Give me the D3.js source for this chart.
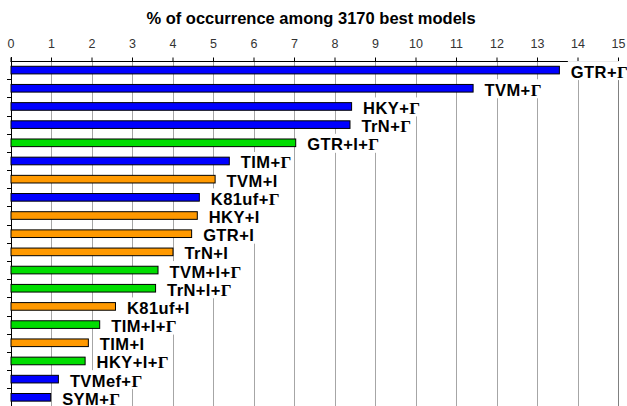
<!DOCTYPE html>
<html>
<head>
<meta charset="utf-8">
<script src="https://cdn.jsdelivr.net/npm/d3@7"></script>
<style>
  body { margin: 0; background: #fff; }
  svg { display: block; }
</style>
</head>
<body>
<div id="chart"></div>
<script>
// data
var models = ["GTR+Γ", "TVM+Γ", "HKY+Γ", "TrN+Γ", "GTR+I+Γ", "TIM+Γ", "TVM+I",
  "K81uf+Γ", "HKY+I", "GTR+I", "TrN+I", "TVM+I+Γ", "TrN+I+Γ", "K81uf+I",
  "TIM+I+Γ", "TIM+I", "HKY+I+Γ", "TVMef+Γ", "SYM+Γ"];
var percents = [13.54, 11.41, 8.41, 8.37, 7.03, 5.39, 5.04, 4.65, 4.60, 4.46,
  4.00, 3.63, 3.57, 2.58, 2.19, 1.91, 1.83, 1.17, 0.98];
var xTicks = d3.range(0, 16);
var groups = ["+Γ", "+I", "+I+Γ"];

var width = 627, height = 406;
var plotLeft = 10.5, plotRight = 618, plotTop = 61, plotBottom = 406.4;

var svg = d3.select("#chart").append("svg")
    .attr("width", width)
    .attr("height", height);

var x = d3.scaleLinear().domain([0, 15]).range([plotLeft, plotRight]);
var y = d3.scaleBand().domain(models).range([plotTop, plotBottom]).paddingInner(0.58).paddingOuter(0.29);
var color = d3.scaleOrdinal().domain(groups).range(["#0000ff", "#ff9900", "#00dd00"]);

function groupOf(m) {
  if (m.indexOf("+I+Γ") >= 0) return "+I+Γ";
  if (m.indexOf("+I") >= 0) return "+I";
  return "+Γ";
}

var data = models.map(function(m, i) { return {model: m, value: percents[i]}; });

// title
svg.append("text")
    .attr("x", 311)
    .attr("y", 24)
    .attr("text-anchor", "middle")
    .style("font-family", "Liberation Sans, Arial, sans-serif")
    .style("font-weight", "bold")
    .style("font-size", "16.5px")
    .text("% of occurrence among 3170 best models");

// gridlines
svg.selectAll(".grid")
    .data(xTicks.filter(function(d) { return d > 0; }))
    .enter().append("line")
    .attr("class", "grid")
    .attr("x1", function(d) { return Math.round(x(d)) + 0.5; })
    .attr("x2", function(d) { return Math.round(x(d)) + 0.5; })
    .attr("y1", plotTop)
    .attr("y2", height)
    .attr("stroke", function(d) { return d === 15 ? "#808080" : "#a6a6a6"; })
    .attr("stroke-width", 1);

// top axis
var xAxis = d3.axisTop(x).tickValues(xTicks).tickSize(4).tickPadding(10);
var gx = svg.append("g")
    .attr("transform", "translate(0," + (plotTop + 0.5) + ")")
    .call(xAxis);
gx.select(".domain").attr("stroke", "#000").attr("d", "M" + plotLeft + ",0H" + (plotRight + 1));
gx.selectAll(".tick line").attr("stroke", "#000");
gx.selectAll(".tick text")
    .style("font-family", "Liberation Sans, Arial, sans-serif")
    .style("font-size", "12.5px")
    .attr("fill", "#333");

// left axis with ticks at band edges
var gy = svg.append("g");
gy.append("line")
    .attr("x1", Math.round(plotLeft) + 0.5).attr("x2", Math.round(plotLeft) + 0.5)
    .attr("y1", plotTop - 4).attr("y2", height)
    .attr("stroke", "#000");
gy.selectAll(".ytick")
    .data(models)
    .enter().append("line")
    .attr("class", "ytick")
    .attr("x1", Math.round(plotLeft) - 4).attr("x2", Math.round(plotLeft) + 0.5)
    .attr("y1", function(d) { return Math.round(y(d) + y.bandwidth() / 2 + y.step() / 2) + 0.5; })
    .attr("y2", function(d) { return Math.round(y(d) + y.bandwidth() / 2 + y.step() / 2) + 0.5; })
    .attr("stroke", "#000");

// bars
svg.selectAll(".bar")
    .data(data)
    .enter().append("rect")
    .attr("class", "bar")
    .attr("x", x(0) + 0.5)
    .attr("y", function(d) { return y(d.model); })
    .attr("width", function(d) { return x(d.value) - x(0); })
    .attr("height", y.bandwidth())
    .attr("fill", function(d) { return color(groupOf(d.model)); })
    .attr("stroke", "#000")
    .attr("stroke-width", 1);

// labels with white boxes
var labels = svg.selectAll(".label")
    .data(data)
    .enter().append("g")
    .attr("class", "label");

var texts = labels.append("text")
    .attr("x", function(d) { return x(d.value) + 12; })
    .attr("y", function(d) { return y(d.model) + y.bandwidth() / 2 + 7.5; })
    .style("font-family", "Liberation Sans, Arial, sans-serif")
    .style("font-weight", "bold")
    .style("font-size", "16.5px")
    .style("letter-spacing", "0.4px");

texts.each(function(d) {
  var t = d3.select(this);
  var parts = d.model.split("Γ");
  t.append("tspan").text(parts[0]);
  if (parts.length > 1) {
    t.append("tspan")
        .style("font-family", "Liberation Serif, Times New Roman, serif")
        .style("font-weight", "bold")
        .style("font-size", "17px")
        .style("letter-spacing", "0px")
        .text("Γ");
  }
});

labels.each(function(d) {
  var g = d3.select(this);
  var bb = g.select("text").node().getBBox();
  g.insert("rect", "text")
      .attr("x", bb.x - 3)
      .attr("y", y(d.model) + y.bandwidth() / 2 - 9)
      .attr("width", bb.width + 5)
      .attr("height", 19)
      .attr("fill", "#fff");
});
</script>
</body>
</html>
